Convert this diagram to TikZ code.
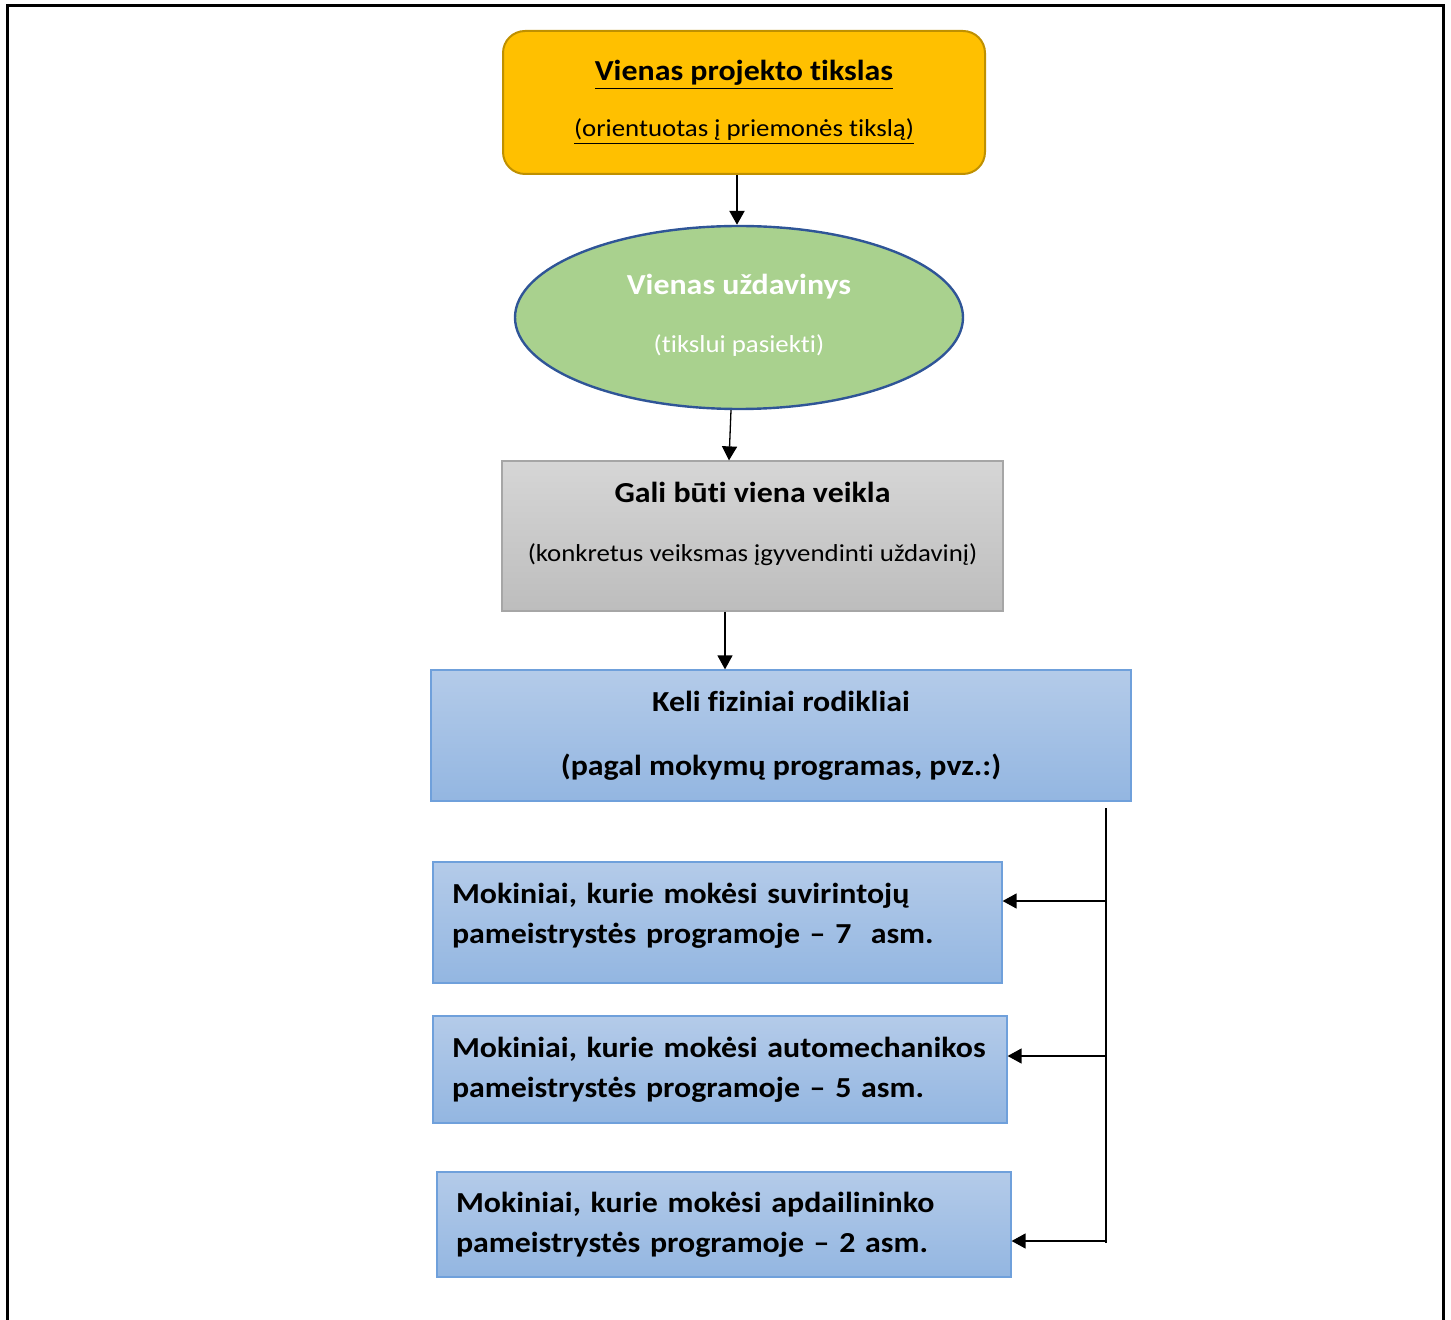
\documentclass[tikz,border=0pt]{standalone}
\usepackage{fontspec}
\setmainfont{Carlito}[FakeStretch=1.1,Ligatures=NoCommon]
\usetikzlibrary{arrows.meta,shapes.geometric}

\definecolor{goldfill}{HTML}{FFC000}
\definecolor{golddraw}{HTML}{BF9000}
\definecolor{taskfill}{HTML}{A9D18E}
\definecolor{taskdraw}{HTML}{2F5597}
\definecolor{graytop}{HTML}{D6D6D6}
\definecolor{graybot}{HTML}{BDBDBD}
\definecolor{graydraw}{HTML}{A6A6A6}
\definecolor{bluetop}{HTML}{B4CBE9}
\definecolor{bluebot}{HTML}{93B6E1}
\definecolor{bluedraw}{HTML}{6FA0DB}

\newcommand{\headfont}{\fontsize{14.5}{17.4}\selectfont}
\newcommand{\subfont}{\fontsize{12.2}{14.6}\selectfont}
\newcommand{\pupilfont}{\fontsize{14.5}{20}\selectfont}
% extra depth under the last line, lifts the text in its box
\newcommand{\padbelow}[1]{\rule[-#1]{0pt}{0pt}}
\frenchspacing

\begin{document}
\begin{tikzpicture}[x=0.5pt,y=-0.5pt,>={Triangle[length=7pt,width=7.5pt]},
	goal/.style={draw=golddraw,fill=goldfill,line width=1pt,rounded corners=11pt,
		minimum width=241pt,minimum height=71.5pt,align=center,font=\headfont},
	task/.style={ellipse,draw=taskdraw,fill=taskfill,line width=1.2pt,inner sep=0pt,
		minimum width=224pt,minimum height=91.5pt,align=center,font=\headfont,text=white},
	activity/.style={draw=graydraw,top color=graytop,bottom color=graybot,line width=0.6pt,
		minimum width=250.5pt,minimum height=75pt,align=center,font=\headfont},
	blue box/.style={draw=bluedraw,top color=bluetop,bottom color=bluebot,line width=0.6pt},
	indicator/.style={blue box,minimum width=350pt,minimum height=65.5pt,align=center,
		font=\headfont\bfseries},
	pupils/.style={blue box,align=left,inner xsep=9.5pt,font=\pupilfont\bfseries},
	thin/.style={line width=0.65pt}]
	\useasboundingbox (0,0) rectangle (1451,1320);
	\draw[line width=1.5pt] (7,1320) -- (7,6) -- (1443,6) -- (1443,1320);

	\node[goal] (goal) at (744,102.5) {\textbf{\underline{Vienas projekto tikslas}}\\[10.4pt]{\subfont\underline{(orientuotas į priemonės tikslą)}}};
	\node[task] (task) at (739,317.5) {\textbf{Vienas uždavinys}\\[11.6pt]{\subfont(tikslui pasiekti)\padbelow{4pt}}};
	\node[activity] (act) at (752.5,536) {\textbf{Gali būti viena veikla}\\[12.4pt]{\subfont(konkretus veiksmas įgyvendinti uždavinį)\padbelow{14pt}}};
	\node[indicator] (ind) at (781,735.5) {Keli fiziniai rodikliai\\[14.4pt](pagal mokymų programas, pvz.:)};
	\node[pupils,text width=265.5pt,minimum height=60.5pt] (weld) at (717.5,922.5)
		{Mokiniai, kurie mokėsi suvirintojų\\pameistrystės programoje – 7~ asm.\padbelow{9pt}};
	\node[pupils,text width=268pt,minimum height=53.5pt] (mech) at (720,1069.5)
		{Mokiniai, kurie mokėsi automechanikos\\pameistrystės programoje – 5 asm.};
	\node[pupils,text width=268pt,minimum height=52.5pt] (finish) at (724,1224.5)
		{Mokiniai, kurie mokėsi apdailininko\\pameistrystės programoje – 2 asm.};

	\draw[->,line width=1.2pt] ([xshift=-3.5pt]goal.south) -- ([xshift=-1pt]task.north);
	\draw[->,thin] ([xshift=-4pt]task.south) -- ([xshift=-11.75pt]act.north);
	\draw[->,thin] ([xshift=-13.75pt]act.south) -- ([xshift=-28pt]ind.north);

	% bus on the right
	\coordinate (bus top) at (1106,808);
	\coordinate (bus bot) at (1106,1243);
	\draw[thin] (bus top) -- (bus bot);
	\foreach \pupil/\y [count=\i] in {weld/901,mech/1056,finish/1241}{
		\coordinate (tap\i) at (1106,\y);
		\draw[->,thin] (tap\i) -- (tap\i -| \pupil.east);
	}
\end{tikzpicture}
\end{document}
